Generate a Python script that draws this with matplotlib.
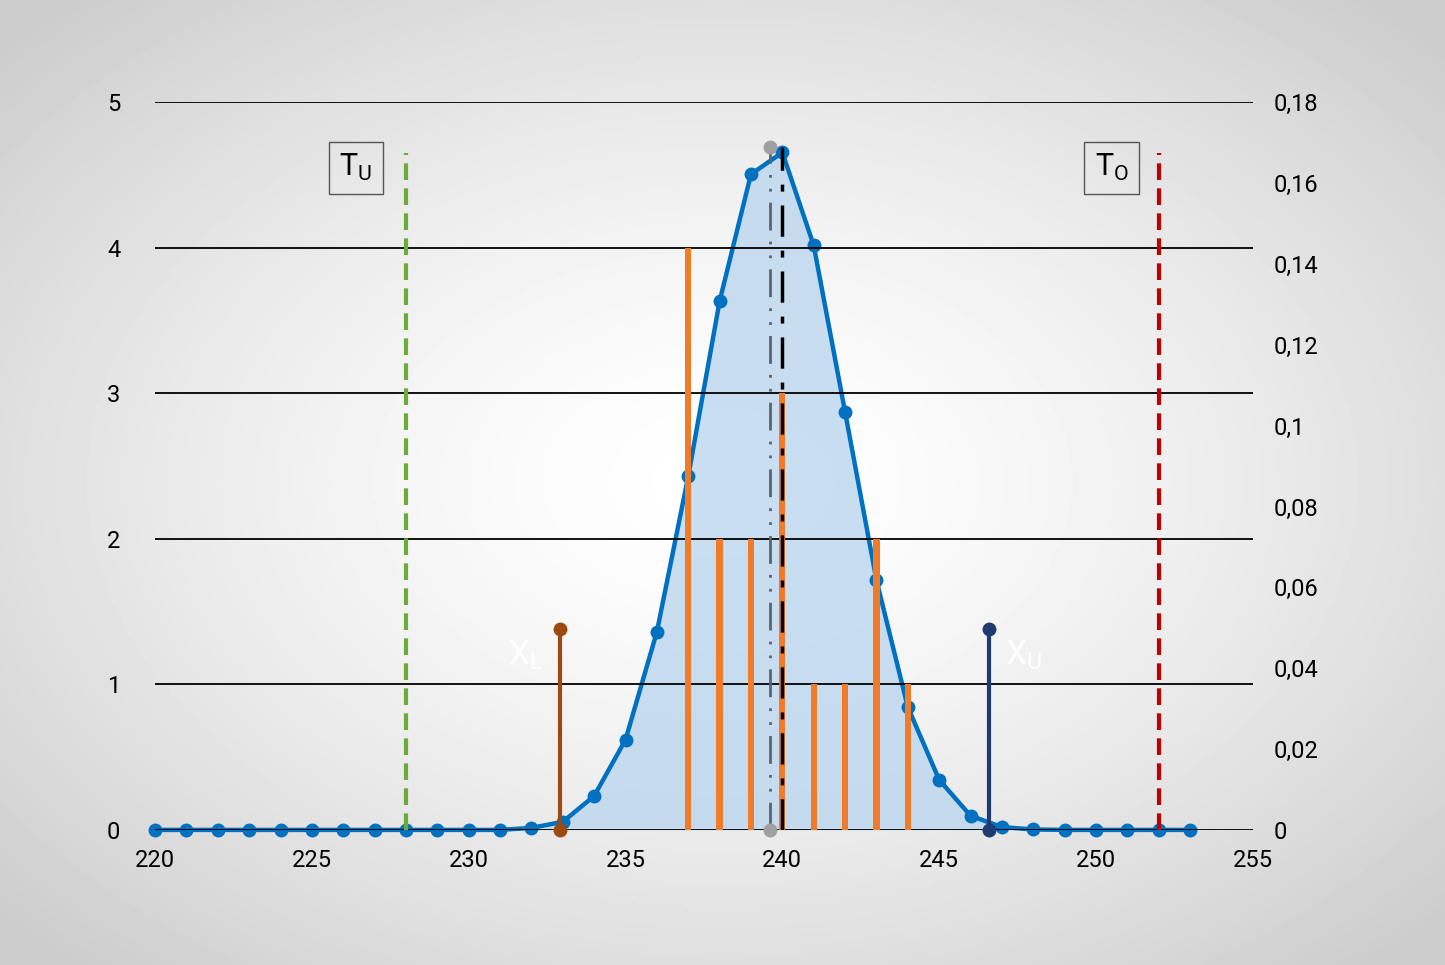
import numpy as np
import matplotlib.pyplot as plt

# data
hist_x = [237, 238, 239, 240, 241, 242, 243, 244]
hist_n = [4, 2, 2, 3, 1, 1, 2, 1]
pts_x = list(range(220, 254))
pts_y = [0, 0, 0, 0, 0, 0, 0, 0, 0, 0, 0, 0, 0.0005, 0.002, 0.0084, 0.0223,
         0.049, 0.0875, 0.1308, 0.1622, 0.1676, 0.1446, 0.1034, 0.0618,
         0.0304, 0.0124, 0.0035, 0.0007, 0.0001, 0, 0, 0, 0, 0]
mean_x = 239.6
median_x = 240
peak_y = 0.169
tol_low, tol_high = 228, 252
xl, xu = 232.9, 246.6
x_stem_h = 1.38

plt.rcParams['font.family'] = ['Roboto', 'DejaVu Sans']

fig = plt.figure(figsize=(14.45, 9.65), dpi=100)

# radial gradient background
bg = fig.add_axes([0, 0, 1, 1], zorder=-10)
yy, xx = np.mgrid[-1:1:300j, -1:1:450j]
r = np.sqrt(xx ** 2 + yy ** 2)
bg.imshow(1 - 0.2 * np.clip(r / 1.35, 0, 1) ** 1.5, cmap='gray', vmin=0, vmax=1,
          aspect='auto', extent=[0, 1, 0, 1])
bg.axis('off')

ax = fig.add_axes([0.1073, 0.140, 0.7597, 0.754])
ax.patch.set_alpha(0)
ax2 = ax.twinx()
ax.set_zorder(2)
ax2.set_zorder(1)

ax.set_xlim(220, 255)
ax.set_ylim(0, 5)
ax2.set_ylim(0, 0.18)

for v in range(6):
    ax.axhline(v, color='black', lw=1.3, zorder=1)

# density curve on right axis
ax2.fill_between(pts_x, pts_y, color='#bcd6ee', alpha=0.8, lw=0)
ax2.plot(pts_x, pts_y, '-o', color='#0070c0', lw=3.2, ms=9, zorder=5, clip_on=False)

ax.bar(hist_x, hist_n, width=0.2, color='#f07c2a', zorder=3)

pk = peak_y / 0.18 * 5
ax.plot([mean_x, mean_x], [0, pk], color='#5a6470', lw=2, dashes=[10, 4, 1, 4, 1, 4], zorder=4)
ax.plot([median_x, median_x], [0, pk], color='black', lw=2.5, dashes=[9, 4, 2, 4], zorder=4)
ax.plot([mean_x, mean_x], [0, pk], 'o', color='#a0a0a0', ms=9, zorder=6, clip_on=False)

ax.plot([tol_low, tol_low], [0, 4.65], color='#6aab3a', lw=3, ls=(0, (4, 2)), zorder=4)
ax.plot([tol_high, tol_high], [0, 4.65], color='#c00000', lw=3, ls=(0, (4, 2)), zorder=4)

ax.plot([xl, xl], [0, x_stem_h], '-o', color='#9c4a10', lw=3, ms=9, zorder=6, clip_on=False)
ax.plot([xu, xu], [0, x_stem_h], '-o', color='#1f3a70', lw=3, ms=9, zorder=6, clip_on=False)
ax.text(xl - 1.1, 1.2, r'X$_\mathregular{L}$', color='white', fontsize=24, ha='center', va='center', zorder=7)
ax.text(xu + 1.1, 1.2, r'X$_\mathregular{U}$', color='white', fontsize=24, ha='center', va='center', zorder=7)

box = dict(boxstyle='square,pad=0.35', fc='none', ec='#555555', lw=1)
ax.text(226.4, 4.55, r'T$_\mathregular{U}$', fontsize=22, ha='center', va='center', bbox=box)
ax.text(250.5, 4.55, r'T$_\mathregular{O}$', fontsize=22, ha='center', va='center', bbox=box)

ax.set_xticks(range(220, 256, 5))
ax.set_yticks(range(6))
ax2.set_yticks(np.arange(0, 0.181, 0.02))
ax2.set_yticklabels(['0', '0,02', '0,04', '0,06', '0,08', '0,1', '0,12', '0,14', '0,16', '0,18'])
for a in (ax, ax2):
    for s in a.spines.values():
        s.set_visible(False)
    a.tick_params(length=0, labelsize=17)
ax.tick_params(axis='y', pad=25)
ax2.tick_params(axis='y', pad=15)
ax.tick_params(axis='x', pad=14)

fig.savefig('out.png', dpi=100)
